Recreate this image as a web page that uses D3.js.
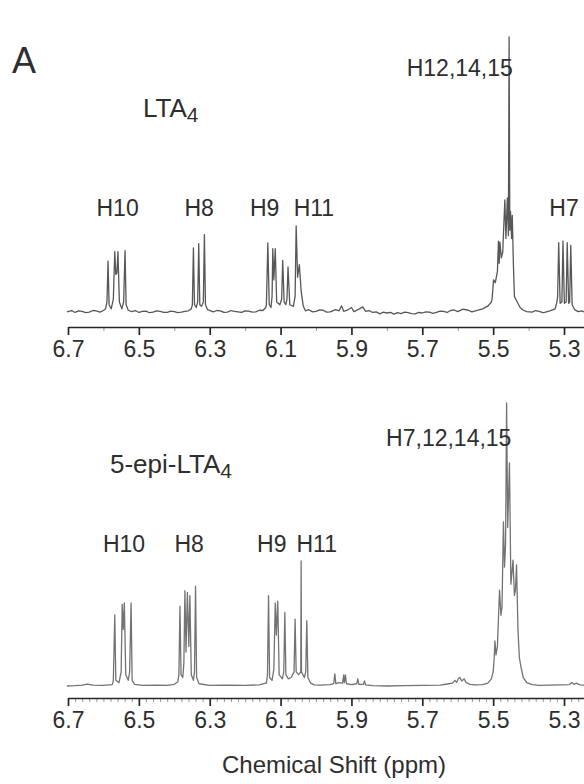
<!DOCTYPE html>
<html>
<head>
<meta charset="utf-8">
<script src="https://cdn.jsdelivr.net/npm/d3@7"></script>
<style>
  html, body { margin: 0; padding: 0; background: #fff; }
  svg { display: block; font-family: "Liberation Sans", Arial, Helvetica, sans-serif; }
</style>
</head>
<body>
<svg id="chart" width="584" height="784"></svg>
<script>
// Chemical shift axis (ppm)
const ppmMajor = [6.7, 6.5, 6.3, 6.1, 5.9, 5.7, 5.5, 5.3];
const ppmMinorTop = [6.6, 6.4, 6.2, 6.0, 5.8, 5.6, 5.4];
const ppmWindow = [6.7, 5.2436];

// 1H NMR trace of LTA4: [ppm, relative intensity]
const lta4Trace = [
  [6.703, 0.4], [6.69, 0.9], [6.68, 0.2], [6.67, 0.8], [6.66, 0.6], [6.65, 0.1], [6.64, 0.3], [6.63, 0.9],
  [6.62, 0.8], [6.61, 0.3], [6.60, 0.9], [6.594, 1.5],
  [6.590, 4], [6.587, 18.8], [6.584, 3], [6.578, 1.5], [6.572, 5], [6.568, 22.2], [6.565, 14],
  [6.562, 14.5], [6.559, 22.2], [6.555, 4], [6.548, 1.5], [6.543, 4], [6.539, 22.6], [6.536, 3], [6.530, 1.0],
  [6.52, 0.5], [6.51, 0.9], [6.50, 0.2], [6.49, 0.6], [6.48, 0.7], [6.47, 0.1], [6.46, 0.3], [6.45, 0.8],
  [6.44, 0.6], [6.43, 0.2], [6.42, 0.2], [6.41, 0.7], [6.40, 0.5], [6.39, 0.1], [6.38, 0.3], [6.37, 0.6],
  [6.36, 0.8], [6.352, 1.5],
  [6.349, 3], [6.346, 23.6], [6.343, 3], [6.338, 2], [6.334, 4], [6.331, 25.1], [6.328, 3], [6.323, 2.4],
  [6.318, 4], [6.315, 28.4], [6.312, 3], [6.306, 1.2],
  [6.29, 0.4], [6.28, 0.9], [6.27, 0.8], [6.26, 0.2], [6.25, 0.3], [6.24, 0.9], [6.23, 0.6], [6.22, 0.4],
  [6.21, 0.2], [6.20, 0.8], [6.19, 0.7], [6.18, 0.3], [6.17, 0.4], [6.16, 1.0], [6.15, 0.9], [6.142, 2],
  [6.140, 3], [6.136, 25.4], [6.132, 3], [6.127, 2], [6.124, 6], [6.122, 23.3], [6.119, 12], [6.115, 23.3],
  [6.111, 4], [6.102, 3], [6.097, 5], [6.094, 19.1], [6.090, 4], [6.085, 3], [6.082, 5], [6.079, 16.7],
  [6.074, 3], [6.064, 2.4], [6.059, 6], [6.056, 31.6], [6.052, 13], [6.047, 17.5], [6.042, 8], [6.036, 2.5],
  [6.030, 0.8],
  [6.02, 1.2], [6.01, 0.4], [6.00, 0.6], [5.99, 1.1], [5.98, 1.0], [5.97, 0.3], [5.96, 0.4], [5.945, 1.2],
  [5.935, 0.8], [5.928, 2.6], [5.922, 0.6], [5.912, 1.0], [5.900, 2.0], [5.893, 0.5], [5.880, 1.3],
  [5.868, 2.2], [5.860, 0.6], [5.85, 0.9], [5.84, 0.2], [5.83, 0.4], [5.82, -0.3], [5.81, 0.3], [5.80, 0.0],
  [5.79, 0.2], [5.78, -0.4], [5.77, 0.1], [5.76, -0.2], [5.75, 0.3], [5.74, 0.1], [5.73, -0.2], [5.72, -0.3],
  [5.71, 0.2], [5.70, 0.0], [5.69, 0.4], [5.68, 0.3], [5.67, -0.1], [5.66, 0.2], [5.65, 0.7], [5.64, 0.6],
  [5.63, 0.2], [5.62, 0.9], [5.61, 1.1], [5.60, 0.5], [5.585, 1.4], [5.57, 1.0], [5.56, 0.4], [5.55, 0.8],
  [5.54, 1.1], [5.53, 1.5], [5.515, 2.5], [5.505, 4],
  [5.503, 5], [5.499, 12], [5.494, 11], [5.488, 15], [5.485, 26], [5.483, 18], [5.481, 25.7], [5.477, 20],
  [5.473, 22], [5.467, 41], [5.464, 27], [5.460, 41.7], [5.457, 28], [5.455, 100], [5.453, 30],
  [5.451, 36.8], [5.448, 27], [5.446, 35.4], [5.443, 18], [5.440, 6], [5.432, 4], [5.424, 2], [5.415, 1.0],
  [5.405, 0.5], [5.39, 0.3], [5.38, 0.9], [5.37, 0.6], [5.36, 0.1], [5.355, 0.2], [5.34, 0.8], [5.325, 1.5],
  [5.320, 4], [5.318, 6], [5.315, 25.5], [5.311, 3.5], [5.306, 4], [5.303, 26], [5.299, 3.5], [5.294, 4],
  [5.291, 25.5], [5.287, 3.5], [5.284, 4], [5.281, 24.5], [5.277, 3], [5.270, 1.2], [5.260, 0.5],
  [5.250, 0.8], [5.2436, 0.4]
];

// 1H NMR trace of 5-epi-LTA4: [ppm, relative intensity]
const epiTrace = [
  [6.703, 0], [6.68, 0.1], [6.66, 0.3], [6.645, 0.7], [6.63, 0.3], [6.60, 0.2], [6.575, 0.5],
  [6.572, 2], [6.568, 25.1], [6.565, 2], [6.556, 1.2], [6.550, 5], [6.547, 28.8], [6.544, 20],
  [6.541, 29.4], [6.537, 4], [6.530, 2], [6.526, 5], [6.522, 29.4], [6.519, 2], [6.512, 0.6],
  [6.49, 0.2], [6.45, 0.3], [6.42, 0.2], [6.40, 0.6],
  [6.390, 1.5], [6.387, 4], [6.384, 28.2], [6.381, 4], [6.376, 3], [6.373, 8], [6.370, 33.7], [6.367, 12],
  [6.363, 33.1], [6.359, 14], [6.356, 31.9], [6.352, 4], [6.346, 2], [6.343, 5], [6.340, 35.3], [6.337, 3],
  [6.330, 0.8],
  [6.30, 0.2], [6.25, 0.3], [6.20, 0.2], [6.16, 0.4], [6.142, 1],
  [6.140, 1], [6.137, 4], [6.134, 31.9], [6.131, 3], [6.124, 2], [6.119, 6], [6.115, 29.4], [6.112, 18],
  [6.108, 30], [6.104, 4], [6.095, 2.5], [6.091, 5], [6.088, 26], [6.085, 4], [6.078, 2.5], [6.070, 3],
  [6.062, 5], [6.059, 23.6], [6.056, 5], [6.049, 4], [6.043, 5], [6.042, 44.2], [6.041, 5], [6.033, 3],
  [6.029, 5], [6.026, 23.1], [6.023, 3], [6.015, 1], [6.005, 0.4],
  [5.99, 0.3], [5.96, 0.5], [5.950, 0.8], [5.947, 4.3], [5.944, 0.8], [5.935, 1.2], [5.925, 1.0],
  [5.922, 3.9], [5.920, 1.2], [5.917, 3.9], [5.914, 0.8], [5.900, 0.5], [5.885, 0.8], [5.882, 2.5],
  [5.879, 0.6], [5.866, 0.6], [5.863, 1.8], [5.860, 0.4],
  [5.84, 0.1], [5.80, 0], [5.75, 0.1], [5.70, 0.2], [5.65, 0.3], [5.625, 0.8],
  [5.615, 1.0], [5.608, 2], [5.603, 1.3], [5.597, 2.8], [5.594, 3], [5.589, 1.8], [5.582, 2.5],
  [5.576, 1.2], [5.565, 0.6], [5.55, 0.4], [5.53, 0.5], [5.515, 1.0], [5.505, 2.5],
  [5.500, 5], [5.497, 10], [5.495, 15.9], [5.492, 11], [5.488, 14], [5.482, 33.9], [5.478, 25], [5.475, 28],
  [5.471, 58], [5.468, 42], [5.465, 50], [5.462, 100], [5.459, 56], [5.454, 78.8], [5.450, 36], [5.447, 40],
  [5.444, 44.5], [5.440, 32], [5.437, 34], [5.434, 42.8], [5.430, 20], [5.426, 10], [5.421, 6.4],
  [5.415, 3], [5.405, 1.2], [5.39, 0.5],
  [5.37, 0.2], [5.34, 0.3], [5.31, 0.4], [5.285, 0.5], [5.278, 1.2], [5.272, 0.6], [5.265, 1.0],
  [5.255, 0.4], [5.2436, 0.3]
];

// Proton assignments: label text and the shift it sits over
const lta4Assign = [
  { text: "H10", ppm: 6.560 },
  { text: "H8", ppm: 6.330 },
  { text: "H9", ppm: 6.145 },
  { text: "H11", ppm: 6.006 },
  { text: "H7", ppm: 5.300 }
];
const epiAssign = [
  { text: "H10", ppm: 6.542 },
  { text: "H8", ppm: 6.358 },
  { text: "H9", ppm: 6.125 },
  { text: "H11", ppm: 5.998 }
];
const lta4Main = { text: "H12,14,15", ppm: 5.467 };
const epiMain = { text: "H7,12,14,15", ppm: 5.471 };

const svg = d3.select("#chart");
const INK = "#262626";
const TEXT = "#2e2e2e";

const x = d3.scaleLinear().domain(ppmWindow).range([68, 584]);

const panels = [
  { trace: lta4Trace, base: 313, top: 37, axisY: 327, stroke: "#575757", minor: ppmMinorTop,
    assign: lta4Assign, assignY: 216, main: lta4Main, mainY: 76,
    name: "LTA", nameX: 143, nameY: 117 },
  { trace: epiTrace, base: 686, top: 403, axisY: 698, stroke: "#737373",
    minor: d3.range(6.68, 5.25, -0.02).map(v => +v.toFixed(2)).filter(v => !ppmMajor.some(m => Math.abs(m - v) < 1e-6)),
    assign: epiAssign, assignY: 552, main: epiMain, mainY: 446,
    name: "5-epi-LTA", nameX: 110, nameY: 473 }
];

panels.forEach(p => {
  const y = d3.scaleLinear().domain([0, 100]).range([p.base, p.top]);
  const line = d3.line().x(d => x(d[0])).y(d => y(d[1]));

  svg.append("path")
    .datum(p.trace)
    .attr("d", line)
    .attr("fill", "none")
    .attr("stroke", p.stroke)
    .attr("stroke-width", 1.3)
    .attr("stroke-linejoin", "round");

  // minor ticks
  const minor = svg.append("g")
    .attr("transform", `translate(0,${p.axisY})`)
    .call(d3.axisBottom(x).tickValues(p.minor).tickSize(4).tickSizeOuter(0).tickFormat(""));
  minor.select(".domain").remove();
  minor.selectAll(".tick line").attr("stroke", "#999").attr("stroke-width", 1);

  // major ticks and labels
  const ax = svg.append("g")
    .attr("transform", `translate(0,${p.axisY})`)
    .call(d3.axisBottom(x).tickValues(ppmMajor).tickFormat(d3.format(".1f"))
      .tickSize(8).tickSizeOuter(0).tickPadding(6));
  ax.select(".domain").attr("stroke", INK).attr("stroke-width", 1.7);
  ax.selectAll(".tick line").attr("stroke", INK).attr("stroke-width", 1.7);
  ax.selectAll(".tick text")
    .attr("fill", TEXT)
    .style("font-size", "23px")
    .style("font-family", "'Liberation Sans', Arial, sans-serif");

  // assignment labels
  svg.selectAll(null)
    .data(p.assign)
    .join("text")
    .attr("x", d => x(d.ppm))
    .attr("y", p.assignY)
    .attr("text-anchor", "middle")
    .attr("fill", TEXT)
    .style("font-size", "23px")
    .text(d => d.text);

  svg.append("text")
    .attr("x", x(p.main.ppm) + 8)
    .attr("y", p.mainY)
    .attr("text-anchor", "end")
    .attr("fill", TEXT)
    .style("font-size", "23px")
    .text(p.main.text);

  // compound name with subscript
  const t = svg.append("text")
    .attr("x", p.nameX)
    .attr("y", p.nameY)
    .attr("fill", TEXT)
    .style("font-size", "26px");
  t.append("tspan").text(p.name);
  t.append("tspan").attr("dy", 5).style("font-size", "21px").text("4");
});

svg.append("text")
  .attr("x", 12)
  .attr("y", 73)
  .attr("fill", TEXT)
  .style("font-size", "36px")
  .text("A");

svg.append("text")
  .attr("x", 334)
  .attr("y", 773)
  .attr("text-anchor", "middle")
  .attr("fill", TEXT)
  .style("font-size", "24px")
  .text("Chemical Shift (ppm)");
</script>
</body>
</html>
